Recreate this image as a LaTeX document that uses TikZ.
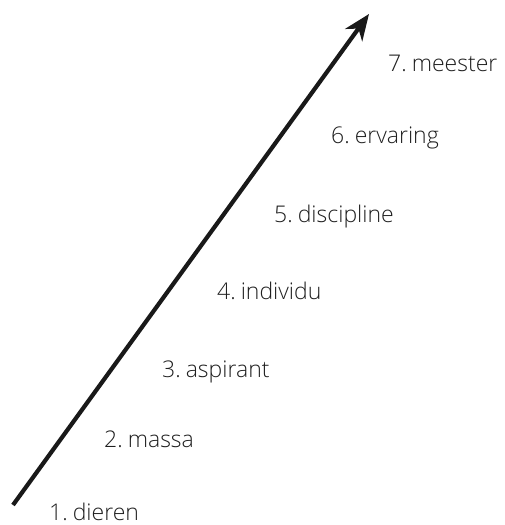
\documentclass[tikz,border=0pt]{standalone}
\usepackage{fontspec}
\setmainfont{Open Sans Light}[WordSpace=0.5]
\usetikzlibrary{arrows.meta}
\begin{document}
\begin{tikzpicture}[x=1pt,y=-1pt,
  lbl/.style={anchor=base west,inner sep=0pt,text depth=0pt,font=\fontsize{23}{26}\selectfont,text=black!88}]
\useasboundingbox (0,0) rectangle (504,525);
\coordinate (tail) at (13,505);
\coordinate (tip) at (369,14);
\draw[line width=4.2pt,-{Stealth[length=26pt,width=21pt,inset=8pt]},black!90] (tail) -- (tip);
\node[lbl] (l7) at (388,71) {7. meester};
\node[lbl] (l6) at (331,143) {6. ervaring};
\node[lbl] (l5) at (274,222) {5. discipline};
\node[lbl] (l4) at (217,299) {4. individu};
\node[lbl] (l3) at (162,377) {3. aspirant};
\node[lbl] (l2) at (104,447) {2. massa};
\node[lbl] (l1) at (49,520) {1. dieren};
\end{tikzpicture}
\end{document}
